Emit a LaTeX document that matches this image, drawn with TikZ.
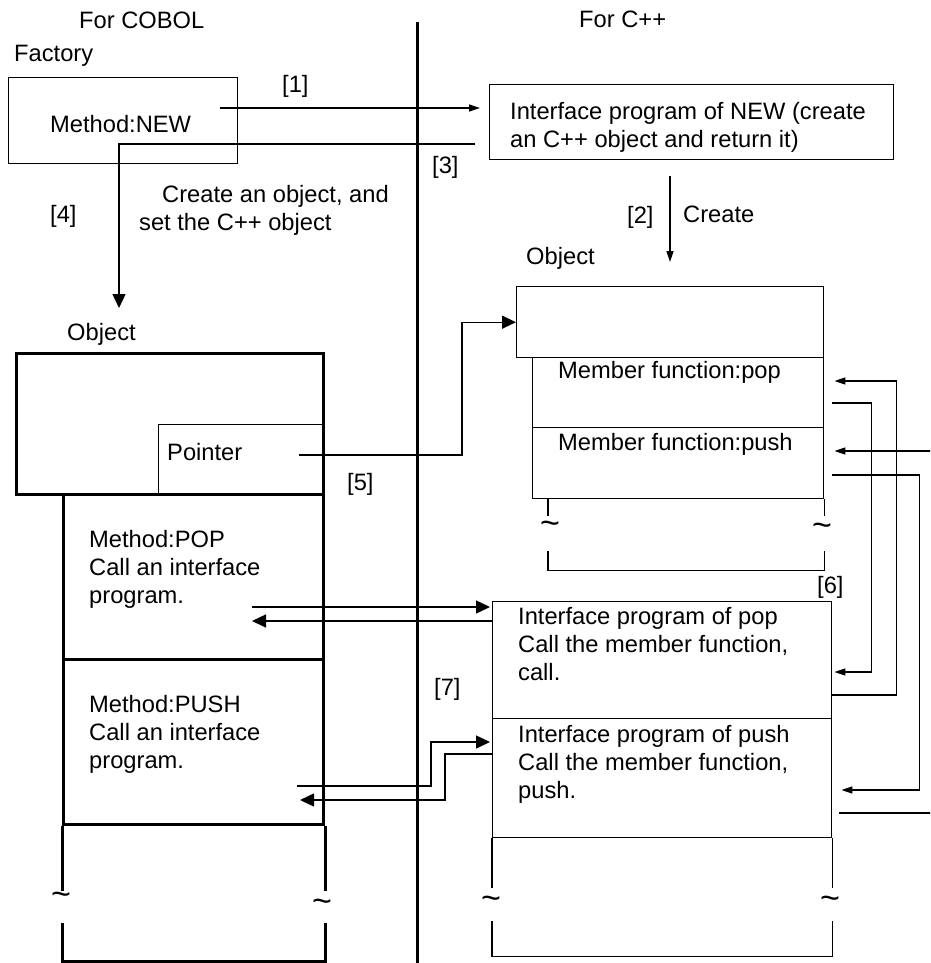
\documentclass[tikz,border=0pt]{standalone}
\usepackage{fontspec}
\setmainfont{Liberation Sans}
\usetikzlibrary{arrows.meta,calc}

\begin{document}
\begin{tikzpicture}[x=1pt, y=-1pt, font=\fontsize{23.7}{28}\selectfont,
  box/.style={draw, line width=1.4pt, anchor=north west, inner sep=0pt},
  heavy/.style={draw, line width=3pt, anchor=north west, inner sep=0pt},
  txt/.style={anchor=base west, align=left, inner sep=0pt},
  brk/.style={inner sep=0pt, font=\fontsize{34}{34}\selectfont},
  wire/.style={line width=1.4pt},
  big/.style={-{Triangle[length=14pt,width=13pt]}},
  small/.style={-{Triangle[length=11pt,width=7pt]}}]

\useasboundingbox (0,0) rectangle (930,963);
\clip (0,0) rectangle (930,963);

% Headings and divider
\node[txt] (hcobol) at (79,29) {For COBOL};
\node[txt] (hcpp) at (579,28) {For C++};
\node[txt] (hfactory) at (14,62) {Factory};
\coordinate (divtop) at (417,22);
\coordinate (divbot) at (417,963);
\draw[line width=3pt] (divtop) -- (divbot);

% Factory and interface program of NEW
\node[box, minimum width=229pt, minimum height=86pt] (factory) at (8,77) {};
\node[txt] (mnew) at (50,132) {Method:NEW};
\node[box, minimum width=404pt, minimum height=75pt] (ifnew) at (489,84) {};
\node[txt] (ifnewtxt) at (510,147) {Interface program of NEW (create\\an C++ object and return it)};

% COBOL object
\node[txt] (lobjlbl) at (67,340) {Object};
\node[heavy, minimum width=307pt, minimum height=141pt] (cobobj) at (15,352) {};
\node[box, minimum width=164pt, minimum height=69pt] (ptr) at (158,424) {};
\node[txt] (ptrtxt) at (167,460) {Pointer};
\node[heavy, minimum width=260pt, minimum height=165pt] (mpop) at (62,493) {};
\node[heavy, minimum width=260pt, minimum height=165pt] (mpush) at (62,658) {};
\node[txt] (mpoptxt) at (89,603) {Method:POP\\Call an interface\\program.};
\node[txt] (mpushtxt) at (89,768) {Method:PUSH\\Call an interface\\program.};
\draw[line width=3pt] (mpush.south west) -- ++(0,65);
\draw[line width=3pt] (mpush.south east) -- ++(0,65);
\draw[line width=3pt] ($(mpush.south west)+(0,97)$) |- ($(mpush.south east)+(0,135)$) -- ($(mpush.south east)+(0,97)$);
\node[brk] (lcut1) at (61,899) {\textasciitilde};
\node[brk] (lcut2) at (322,906) {\textasciitilde};

% C++ object
\node[txt] (robjlbl) at (526,264) {Object};
\node[box, minimum width=307pt, minimum height=71pt] (cppobj) at (516,286) {};
\node[box, minimum width=291pt, minimum height=70pt] (fpop) at (532,357) {};
\node[box, minimum width=291pt, minimum height=71pt] (fpush) at (532,427) {};
\node[txt] (fpoptxt) at (558,378) {Member function:pop};
\node[txt] (fpushtxt) at (558,450) {Member function:push};
\draw[wire] ($(fpush.south west)+(16,0)$) -- ++(0,17);
\draw[wire] (fpush.south east) -- ++(0,17);
\draw[wire] ($(fpush.south west)+(16,52)$) |- ($(fpush.south east)+(0,71)$) -- ($(fpush.south east)+(0,52)$);
\node[brk] (rcut1) at (550,528) {\textasciitilde};
\node[brk] (rcut2) at (822,530) {\textasciitilde};

% Interface programs of pop and push
\node[box, minimum width=339pt, minimum height=117pt] (ifpop) at (492,601) {};
\node[box, minimum width=339pt, minimum height=119pt] (ifpush) at (492,718) {};
\node[txt] (ifpoptxt) at (518,680) {Interface program of pop\\Call the member function,\\call.};
\node[txt] (ifpushtxt) at (518,798) {Interface program of push\\Call the member function,\\push.};
\draw[wire] (ifpush.south west) -- ++(0,50);
\draw[wire] (ifpush.south east) -- ++(0,50);
\draw[wire] ($(ifpush.south west)+(0,83)$) |- ($(ifpush.south east)+(0,118)$) -- ($(ifpush.south east)+(0,83)$);
\node[brk] (icut1) at (491,903) {\textasciitilde};
\node[brk] (icut2) at (830,903) {\textasciitilde};

% Steps [1] to [4]
\draw[wire, small] ($(factory.north west)+(212,31)$) -- ($(ifnew.north west)+(-9,24)$);
\draw[wire, big] ($(ifnew.north west)+(-14,60)$) -| ($(lobjlbl.base west)+(52,-32)$);
\draw[wire, small] ($(ifnew.south west)+(181,16)$) -- ($(cppobj.north west)+(154,-24)$);
\node[txt] (s1) at (282,93) {[1]};
\node[txt] (s2) at (627,223) {[2]};
\node[txt] (s2txt) at (683,222) {Create};
\node[txt] (s3) at (432,173) {[3]};
\node[txt] (s4) at (50,222) {[4]};
\node[txt] (s4txt) at (139,230) {\hspace*{23pt}Create an object, and\\set the C++ object};

% Step [5]
\draw[wire, big] ($(ptr.north west)+(141,31)$) -- ++(163,0) |- (cppobj.west);
\node[txt] (s5) at (347,490) {[5]};

% Step [6]
\draw[wire, small] ($(ifpop.north east)+(0,94)$) -- ++(64,0) |- ($(fpop.north east)+(10,24)$);
\draw[wire, small] ($(fpop.north east)+(8,46)$) -- ++(39,0) |- ($(ifpop.north east)+(2,71)$);
\draw[wire, small] ($(ifpush.north east)+(7,95)$) -- ++(107,0) |- ($(fpush.north east)+(10,24)$);
\draw[wire, small] ($(fpush.north east)+(8,48)$) -- ++(87,0) |- ($(ifpush.north east)+(9,72)$);
\node[txt] (s6) at (817,593) {[6]};

% Step [7]
\draw[wire, big] ($(mpop.north west)+(190,114)$) -- ($(ifpop.north west)+(-2,6)$);
\draw[wire, big] ($(ifpop.north west)+(0,20)$) -- ($(mpop.north west)+(190,128)$);
\draw[wire, big] ($(mpush.north west)+(235,128)$) -| ($(ifpush.north west)+(-61,24)$) -- ($(ifpush.north west)+(-2,24)$);
\draw[wire, big] ($(ifpush.north west)+(0,36)$) -- ++(-47,0) |- ($(mpush.north west)+(238,142)$);
\node[txt] (s7) at (434,695) {[7]};

\end{tikzpicture}
\end{document}
